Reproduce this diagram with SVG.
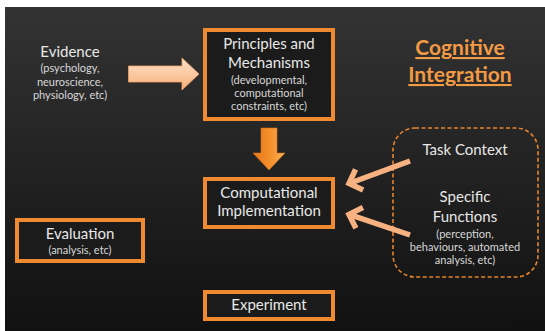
<svg xmlns="http://www.w3.org/2000/svg" width="545" height="331" viewBox="0 0 545 331">
<defs>
<linearGradient id="bg" x1="0" y1="0" x2="0" y2="1">
<stop offset="0" stop-color="#333333"/>
<stop offset="1" stop-color="#111111"/>
</linearGradient>
<linearGradient id="peach" x1="0" y1="0" x2="0" y2="1">
<stop offset="0" stop-color="#fde3cd"/>
<stop offset="1" stop-color="#f8ae76"/>
</linearGradient>
<linearGradient id="orange" x1="0" y1="0" x2="1" y2="0">
<stop offset="0" stop-color="#e9761c"/>
<stop offset="0.6" stop-color="#f5932f"/>
<stop offset="1" stop-color="#fbb55c"/>
</linearGradient>
<marker id="chev" markerUnits="userSpaceOnUse" orient="auto" overflow="visible" markerWidth="30" markerHeight="30" refX="0" refY="0">
<path d="M-11,-11 L0,0 L-11,11" fill="none" stroke="#f8b282" stroke-width="5.5" stroke-linejoin="miter"/>
</marker>
<style>
.box{fill:#1b1b1b;stroke:#f08a30;stroke-width:4}
.t{font-family:Lato,"Open Sans","DejaVu Sans",sans-serif;fill:#e8e8e8;text-anchor:middle}
.m{font-size:15px}
.s{font-size:11px;fill:#d8d8d8}
.title{font-family:Lato,"Open Sans","DejaVu Sans",sans-serif;font-size:21px;font-weight:bold;fill:#f39a45;text-anchor:middle;text-decoration:underline}
.conn{fill:none;stroke:#f8b282;stroke-width:5.5}
</style>
</defs>
<rect x="0" y="0" width="545" height="331" fill="#ffffff"/>
<rect x="5" y="7" width="540" height="324" fill="url(#bg)"/>

<g id="evidence">
<text class="t m" x="70" y="57">Evidence</text>
<text class="t s" x="70" y="72">(psychology,</text>
<text class="t s" x="70" y="86">neuroscience,</text>
<text class="t s" x="70" y="99">physiology, etc)</text>
</g>

<g id="principles">
<rect class="box" x="205" y="30" width="128" height="89"/>
<text class="t m" x="269" y="49">Principles and</text>
<text class="t m" x="269" y="68">Mechanisms</text>
<text class="t s" x="269" y="84">(developmental,</text>
<text class="t s" x="269" y="97">computational</text>
<text class="t s" x="269" y="110">constraints, etc)</text>
</g>

<g id="title">
<text class="title" x="460" y="55">Cognitive</text>
<text class="title" x="460" y="82">Integration</text>
</g>

<g id="computational">
<rect class="box" x="205" y="179" width="128" height="48"/>
<text class="t m" x="269" y="198">Computational</text>
<text class="t m" x="269" y="216">Implementation</text>
</g>

<g id="context">
<rect x="393" y="128" width="145" height="149" rx="22" ry="22" fill="none" stroke="#e8852c" stroke-width="1.6" stroke-dasharray="4,2.5"/>
<text class="t m" x="465" y="155">Task Context</text>
<text class="t m" x="465" y="202">Specific</text>
<text class="t m" x="465" y="222">Functions</text>
<text class="t s" x="465" y="238">(perception,</text>
<text class="t s" x="465" y="251">behaviours, automated</text>
<text class="t s" x="465" y="264">analysis, etc)</text>
</g>

<g id="evaluation">
<rect class="box" x="17" y="220" width="126" height="41"/>
<text class="t m" x="80" y="239">Evaluation</text>
<text class="t s" x="80" y="254">(analysis, etc)</text>
</g>

<g id="experiment">
<rect class="box" x="205" y="292" width="128" height="27"/>
<text class="t m" x="269" y="310">Experiment</text>
</g>

<g id="connectors">
<polygon points="128.5,66 182,66 182,58 199,74 182,90 182,82 128.5,82" fill="url(#peach)" stroke="#f3a266" stroke-width="0.8"/>
<polygon points="261,128 277,128 277,153 285,153 269,170 253,153 261,153" fill="url(#orange)" stroke="#d9701a" stroke-width="0.6"/>
<line class="conn" x1="410" y1="161" x2="349" y2="183.5" marker-end="url(#chev)"/>
<line class="conn" x1="410" y1="235" x2="349" y2="214.4" marker-end="url(#chev)"/>
</g>
</svg>
